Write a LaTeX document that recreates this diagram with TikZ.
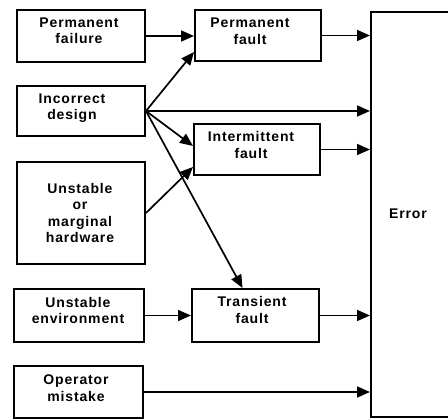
\documentclass[tikz,border=0pt]{standalone}
\usepackage{fontspec}
\setmainfont{Liberation Sans}[LetterSpace=6]
\usetikzlibrary{arrows.meta}
\begin{document}
\begin{tikzpicture}[x=1pt,y=-1pt,
  box/.style={draw, line width=2pt, rectangle, inner sep=0pt},
  lbl/.style={align=center, font=\bfseries\fontsize{14}{16.5}\selectfont, inner sep=0pt},
  conn/.style={line width=1.7pt, -{Triangle[length=13pt,width=11pt]}}]
\useasboundingbox (0,0) rectangle (448,420);
\clip (0,0) rectangle (448,420);

% causes (left column)
\node[box, minimum width=128pt, minimum height=52pt] (pfail) at (81,36) {};
\node[box, minimum width=128pt, minimum height=50pt] (design) at (81,111) {};
\node[box, minimum width=128pt, minimum height=102pt] (hw) at (81,213) {};
\node[box, minimum width=130pt, minimum height=53pt] (env) at (79,315.5) {};
\node[box, minimum width=129pt, minimum height=52pt] (oper) at (78.5,392) {};

\node[lbl] (pfailT) at (79,31) {Permanent\\failure};
\node[lbl] (designT) at (72,108) {Incorrect\\design};
\node[lbl] (hwT) at (80,213) {Unstable\\or\\marginal\\hardware};
\node[lbl] (envT) at (78,310.5) {Unstable\\environment};
\node[lbl] (operT) at (76,388) {Operator\\mistake};

% fault types (middle column)
\node[box, minimum width=126pt, minimum height=51pt] (pfault) at (258,35.5) {};
\node[box, minimum width=126pt, minimum height=51pt] (ifault) at (257,149.5) {};
\node[box, minimum width=127pt, minimum height=53pt] (tfault) at (255.5,315.5) {};

\node[lbl] (pfaultT) at (250,31.5) {Permanent\\fault};
\node[lbl] (ifaultT) at (251,145) {Intermittent\\fault};
\node[lbl] (tfaultT) at (252,310) {Transient\\fault};

% error block, open to the right
\node[box, minimum width=100pt, minimum height=405pt] (error) at (421,214.5) {};
\node[lbl] (errorT) at (408,214) {Error};

% connectors
\draw[conn] (pfail.east) -- (pfail.east -| pfault.west);
\draw[conn] (pfault.east) -- (pfault.east -| error.west);
\draw[conn] (design.east) -- ([yshift=-16.5pt]pfault.west);
\draw[conn] (design.east) -- (design.east -| error.west);
\draw[conn] (design.east) -- ([yshift=3.5pt]ifault.west);
\draw[conn] (design.east) -- ([xshift=-13pt]tfault.north);
\draw[conn] (hw.east) -- ([yshift=-17.5pt]ifault.west);
\draw[conn] (ifault.east) -- (ifault.east -| error.west);
\draw[conn] (env.east) -- (env.east -| tfault.west);
\draw[conn] (tfault.east) -- (tfault.east -| error.west);
\draw[conn] (oper.east) -- (oper.east -| error.west);
\end{tikzpicture}
\end{document}
